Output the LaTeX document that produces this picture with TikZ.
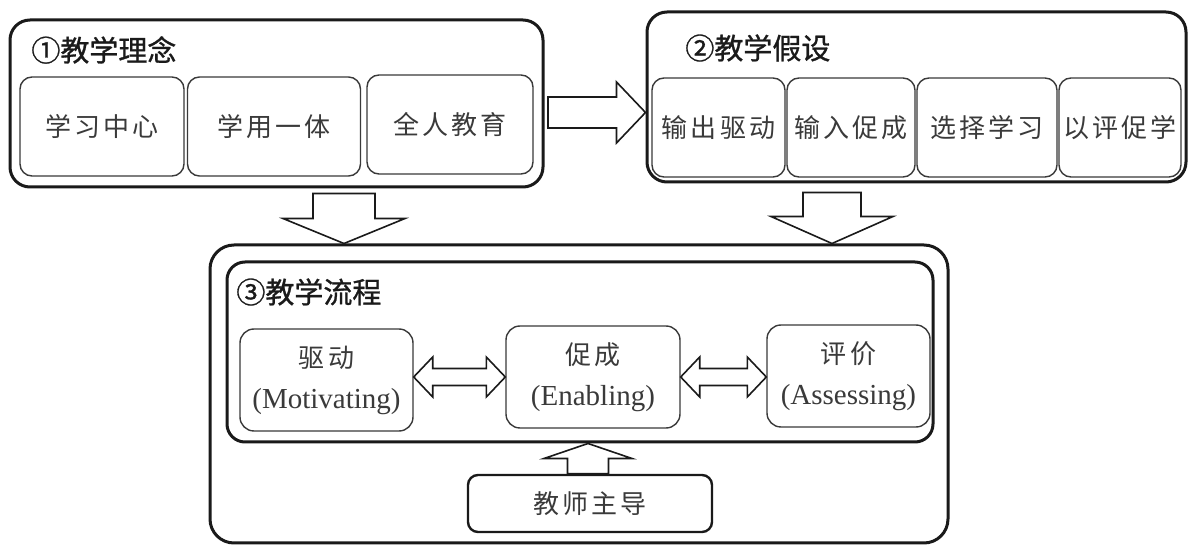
\documentclass[tikz,border=0pt]{standalone}
\usepackage{fontspec}
\usetikzlibrary{calc}
\newfontfamily\cjk{Noto Sans CJK SC}
\newfontfamily\cjktitle{Noto Sans CJK SC}[FakeBold=1]
\newfontfamily\cjksp{Noto Sans CJK SC}[LetterSpace=12]
\newfontfamily\en{Liberation Serif}
\definecolor{ink}{HTML}{1A1A1A}
\definecolor{txt}{HTML}{3A3A3A}
\tikzset{
  outerbox/.style={draw=ink, line width=1.5pt, rounded corners=10pt, inner sep=0pt},
  subbox/.style={draw=txt, line width=0.7pt, rounded corners=6pt, inner sep=0pt, minimum height=49.5pt,
     text=txt, font=\cjksp\fontsize{13pt}{15pt}\selectfont},
  procbox/.style={draw=txt, line width=0.7pt, rounded corners=7pt, inner sep=0pt, minimum height=51pt,
     text=txt, align=center, font=\fontsize{13pt}{20.5pt}\selectfont},
  titlebox/.style={anchor=west, inner sep=0pt, text=ink, font=\cjktitle\fontsize{14.5pt}{17pt}\selectfont},
  barrow/.style={draw=ink, line width=0.8pt, fill=white, line join=miter},
}
\newcommand\twoline[2]{{\cjksp #1}\\{\en\fontsize{14.5pt}{20.5pt}\selectfont (#2)}}
\begin{document}
\begin{tikzpicture}[x=0.5pt,y=-0.5pt]
\useasboundingbox[fill=white] (0,0) rectangle (1191,545);

% ---- box 1
\node[outerbox, minimum width=266.5pt, minimum height=83.5pt] (b1) at (276.5,103.5) {};
\node[titlebox] (t1) at (31,50) {①教学理念};
\node[subbox, minimum width=82pt] (a1) at (102,126.5) {学习中心};
\node[subbox, minimum width=86.5pt] (a2) at (274,126.5) {学用一体};
\node[subbox, minimum width=83pt] (a3) at (450,124.5) {全人教育};

% ---- box 2
\node[outerbox, minimum width=269.5pt, minimum height=85pt] (b2) at (916.5,97) {};
\node[titlebox] (t2) at (685,48) {②教学假设};
\node[subbox, minimum width=66.5pt] (c1) at (718.5,127.5) {输出驱动};
\node[subbox, minimum width=64pt] (c2) at (851,127.5) {输入促成};
\node[subbox, minimum width=70pt] (c3) at (987,127.5) {选择学习};
\node[subbox, minimum width=61pt] (c4) at (1120,127.5) {以评促学};

% ---- box 3
\node[outerbox, rounded corners=12pt, minimum width=369pt, minimum height=149pt] (b3) at (579,394) {};
\node[outerbox, rounded corners=9pt, minimum width=353pt, minimum height=90pt] (p) at (580,352) {};
\node[titlebox] (t3) at (236,292) {③教学流程};
\node[procbox, minimum width=86.5pt] (m1) at (326.5,380) {\twoline{驱动}{Motivating}};
\node[procbox, minimum width=87pt] (m2) at (593,377) {\twoline{促成}{Enabling}};
\node[procbox, minimum width=81.5pt] (m3) at (848.5,376) {\twoline{评价}{Assessing}};
\node[draw=ink, line width=1.2pt, rounded corners=5pt, minimum width=122pt, minimum height=28.5pt,
      inner sep=0pt, text=txt, font=\cjksp\fontsize{13pt}{15pt}\selectfont] (tz) at (590,503.5) {教师主导};

% ---- block arrows
% right arrow b1 -> b2
\coordinate (r0) at (548,112.5);
\coordinate (r1) at (b2.west |- r0);
\draw[barrow] ($(r0)+(0,-15.5)$) -- ($(r1)+(-29,-15.5)$) -- ($(r1)+(-29,-30.5)$) -- (r1)
  -- ($(r1)+(-29,30.5)$) -- ($(r1)+(-29,15.5)$) -- ($(r0)+(0,15.5)$) -- cycle;

% down arrow b1 -> b3
\coordinate (d0) at ($(344,0 |- b1.south)+(0,5)$);
\coordinate (d1) at (344,0 |- b3.north);
\draw[barrow] ($(d0)+(-31,0)$) -- ($(d0)+(31,0)$) -- ($(d1)+(31,-25)$) -- ($(d1)+(61,-25)$) -- (d1)
  -- ($(d1)+(-61,-25)$) -- ($(d1)+(-31,-25)$) -- cycle;

% down arrow b2 -> b3
\coordinate (e0) at ($(832,0 |- b2.south)+(0,9)$);
\coordinate (e1) at (832,0 |- b3.north);
\draw[barrow] ($(e0)+(-29,0)$) -- ($(e0)+(29,0)$) -- ($(e1)+(29,-27)$) -- ($(e1)+(61,-27)$) -- (e1)
  -- ($(e1)+(-61,-27)$) -- ($(e1)+(-29,-27)$) -- cycle;

% double arrows
\coordinate (h0) at (m1.east |- 0,377);
\coordinate (h1) at (m2.west |- 0,377);
\draw[barrow] (h0) -- ($(h0)+(19,-20)$) -- ($(h0)+(19,-8.5)$) -- ($(h1)+(-19,-8.5)$) -- ($(h1)+(-19,-20)$)
  -- (h1) -- ($(h1)+(-19,20)$) -- ($(h1)+(-19,8.5)$) -- ($(h0)+(19,8.5)$) -- ($(h0)+(19,20)$) -- cycle;
\coordinate (k0) at (m2.east |- 0,377);
\coordinate (k1) at (m3.west |- 0,377);
\draw[barrow] (k0) -- ($(k0)+(19,-20)$) -- ($(k0)+(19,-8.5)$) -- ($(k1)+(-19,-8.5)$) -- ($(k1)+(-19,-20)$)
  -- (k1) -- ($(k1)+(-19,20)$) -- ($(k1)+(-19,8.5)$) -- ($(k0)+(19,8.5)$) -- ($(k0)+(19,20)$) -- cycle;

% up arrow teacher -> process
\coordinate (u0) at (588,0 |- tz.north);
\coordinate (u1) at (588,0 |- p.south);
\draw[barrow] ($(u0)+(-20.5,0)$) -- ($(u1)+(-20.5,15)$) -- ($(u1)+(-44,15)$) -- (u1)
  -- ($(u1)+(44,15)$) -- ($(u1)+(20.5,15)$) -- ($(u0)+(20.5,0)$) -- cycle;
\end{tikzpicture}
\end{document}
